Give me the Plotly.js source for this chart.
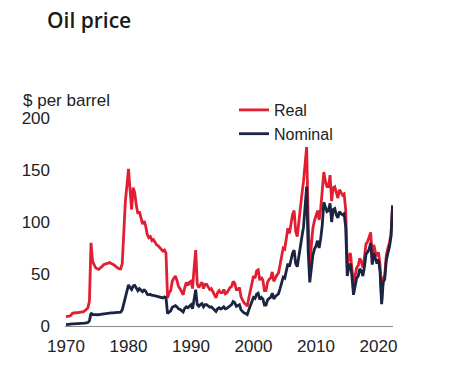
<!DOCTYPE html>
<html>
<head>
<meta charset="utf-8">
<script src="https://cdn.plot.ly/plotly-3.0.1.min.js"></script>
<style>
  html, body { margin: 0; padding: 0; background: #ffffff; }
  #chart { width: 450px; height: 372px; }
</style>
</head>
<body>
<div id="chart"></div>
<script>
// Quarterly observations, first quarter of 1970 to second quarter of 2022
const firstYear = 1970;
const periodsPerYear = 4;

// Real oil price, $ per barrel (today's money)
const realPrice = [
  9.0, 9.0, 9.5, 10.0,      // 1970
  12.0, 12.5, 12.5, 12.5,   // 1971
  13.0, 13.0, 13.5, 13.5,   // 1972
  14.5, 16.0, 17.5, 24.0,   // 1973
  80.0, 62.0, 58.0, 56.0,   // 1974
  55.0, 54.5, 56.0, 57.0,   // 1975
  59.0, 59.5, 60.0, 60.5,   // 1976
  61.0, 60.0, 59.5, 58.5,   // 1977
  57.0, 56.0, 55.0, 55.0,   // 1978
  60.0, 90.0, 120.0, 135.0, // 1979
  151.0, 131.0, 112.0, 133.0, // 1980
  128.0, 116.0, 108.0, 110.0, // 1981
  103.0, 98.0, 101.0, 96.0, // 1982
  88.0, 85.0, 86.0, 82.0,   // 1983
  83.0, 80.0, 78.0, 77.0,   // 1984
  75.0, 73.0, 72.0, 73.0,   // 1985
  70.0, 27.0, 32.0, 34.0,   // 1986
  43.0, 46.0, 48.0, 44.0,   // 1987
  38.0, 36.0, 32.0, 30.0,   // 1988
  37.0, 42.0, 39.0, 42.0,   // 1989
  43.0, 36.0, 56.0, 73.0,   // 1990
  40.0, 37.0, 40.0, 42.0,   // 1991
  36.0, 40.0, 40.0, 38.0,   // 1992
  35.0, 36.0, 33.0, 30.0,   // 1993
  27.0, 32.0, 34.0, 32.0,   // 1994
  32.0, 35.0, 31.0, 32.0,   // 1995
  35.0, 37.0, 38.0, 43.0,   // 1996
  41.0, 35.0, 35.0, 37.0,   // 1997
  28.0, 24.0, 22.0, 21.0,   // 1998
  19.0, 27.0, 35.0, 40.0,   // 1999
  48.0, 46.0, 53.0, 54.0,   // 2000
  44.0, 47.0, 44.0, 34.0,   // 2001
  34.0, 42.0, 45.0, 46.0,   // 2002
  52.0, 43.0, 47.0, 49.0,   // 2003
  51.0, 58.0, 66.0, 75.0,   // 2004
  74.0, 84.0, 94.0, 89.0,   // 2005
  97.0, 107.0, 111.0, 91.0, // 2006
  86.0, 102.0, 113.0, 127.0, // 2007
  139.0, 160.0, 172.0, 102.0, // 2008
  58.0, 77.0, 94.0, 101.0,  // 2009
  105.0, 111.0, 102.0, 113.0, // 2010
  130.0, 148.0, 139.0, 134.0, // 2011
  134.0, 145.0, 120.0, 133.0, // 2012
  134.0, 127.0, 123.0, 131.0, // 2013
  128.0, 126.0, 127.0, 112.0, // 2014
  57.0, 67.0, 70.0, 56.0,   // 2015
  40.0, 48.0, 56.0, 58.0,   // 2016
  65.0, 62.0, 56.0, 66.0,   // 2017
  79.0, 81.0, 85.0, 90.0,   // 2018
  66.0, 78.0, 71.0, 67.0,   // 2019
  71.0, 58.0, 24.0, 46.0,   // 2020
  49.0, 68.0, 75.0, 80.0,   // 2021
  88.0, 116.0               // 2022
];

// Nominal oil price, $ per barrel
const nominalPrice = [
  1.3, 1.3, 1.4, 1.6,       // 1970
  2.0, 2.1, 2.1, 2.2,       // 1971
  2.3, 2.3, 2.4, 2.5,       // 1972
  2.7, 3.0, 3.3, 5.0,       // 1973
  12.5, 11.0, 10.8, 10.6,   // 1974
  10.6, 10.8, 11.2, 11.5,   // 1975
  11.6, 11.7, 11.9, 12.2,   // 1976
  12.5, 12.6, 12.7, 12.8,   // 1977
  12.9, 12.9, 13.0, 13.2,   // 1978
  15.5, 21.0, 28.0, 34.0,   // 1979
  39.5, 37.0, 35.0, 38.5,   // 1980
  39.0, 36.5, 34.0, 36.0,   // 1981
  34.0, 33.0, 34.5, 33.5,   // 1982
  30.5, 30.0, 30.5, 29.5,   // 1983
  29.5, 29.0, 28.5, 28.0,   // 1984
  27.5, 27.5, 27.0, 28.0,   // 1985
  27.0, 12.0, 13.0, 14.5,   // 1986
  18.0, 19.0, 19.5, 18.5,   // 1987
  16.5, 16.0, 14.5, 13.5,   // 1988
  17.0, 18.5, 17.5, 19.5,   // 1989
  20.5, 16.5, 27.0, 35.0,   // 1990
  20.5, 19.0, 20.5, 21.5,   // 1991
  18.5, 20.5, 20.5, 19.5,   // 1992
  18.0, 18.5, 17.0, 16.0,   // 1993
  14.0, 16.5, 17.5, 16.5,   // 1994
  17.0, 18.5, 16.5, 17.0,   // 1995
  18.5, 20.0, 20.5, 23.5,   // 1996
  22.5, 19.0, 19.5, 20.5,   // 1997
  15.5, 13.5, 12.5, 12.0,   // 1998
  11.0, 15.5, 20.5, 23.5,   // 1999
  27.5, 26.5, 30.5, 31.5,   // 2000
  25.5, 27.5, 26.0, 20.0,   // 2001
  20.0, 25.0, 26.5, 27.5,   // 2002
  31.5, 26.0, 28.5, 29.5,   // 2003
  31.0, 36.0, 41.0, 47.0,   // 2004
  46.0, 53.0, 60.0, 57.0,   // 2005
  63.0, 70.0, 73.0, 60.0,   // 2006
  57.0, 68.0, 76.0, 86.0,   // 2007
  95.0, 112.0, 134.0, 72.0, // 2008
  42.0, 55.0, 68.0, 74.0,   // 2009
  77.0, 82.0, 75.0, 84.0,   // 2010
  97.0, 119.0, 114.0, 110.0, // 2011
  111.0, 118.0, 100.0, 112.0, // 2012
  113.0, 107.0, 104.0, 110.0, // 2013
  108.0, 107.0, 108.0, 95.0, // 2014
  48.0, 57.0, 60.0, 48.0,   // 2015
  30.0, 38.0, 46.0, 48.0,   // 2016
  55.0, 53.0, 48.0, 57.0,   // 2017
  69.0, 71.0, 74.0, 80.0,   // 2018
  59.0, 70.0, 64.0, 60.0,   // 2019
  64.0, 52.0, 21.0, 42.0,   // 2020
  45.0, 63.0, 70.0, 76.0,   // 2021
  86.0, 116.0               // 2022
];

const seriesNames = ["Real", "Nominal"];
const xTickValues = [1970, 1980, 1990, 2000, 2010, 2020];
const xTickLabels = ["1970", "1980", "1990", "2000", "2010", "2020"];
const yTickValues = [0, 50, 100, 150, 200];
const yTickLabels = ["0", "50", "100", "150", "200"];

const periods = realPrice.map((_, i) => firstYear + i / periodsPerYear);

const RED = "#e21e32";
const NAVY = "#1b2542";
const TEXT = "#222222";
const FONT = "Liberation Sans, Arial, sans-serif";
const FS = 17;

const traces = [
  {
    x: periods, y: realPrice, name: seriesNames[0], type: "scatter", mode: "lines",
    line: { color: RED, width: 2.8 }, hoverinfo: "skip"
  },
  {
    x: periods, y: nominalPrice, name: seriesNames[1], type: "scatter", mode: "lines",
    line: { color: NAVY, width: 2.8 }, hoverinfo: "skip"
  }
];

const layout = {
  width: 450, height: 372,
  paper_bgcolor: "#ffffff", plot_bgcolor: "#ffffff",
  margin: { l: 65, r: 57, t: 118, b: 46 },
  font: { family: FONT, size: FS, color: TEXT },
  title: {
    text: "Oil price",
    font: { family: "Open Sans, sans-serif", size: 21, weight: 600, color: "#1a1a1a" },
    xref: "container", yref: "container",
    x: 47 / 450, xanchor: "left",
    y: 1 - 21 / 372, yanchor: "middle"
  },
  xaxis: {
    range: [1969.84, 2022.32],
    tickmode: "array", tickvals: xTickValues, ticktext: xTickLabels,
    showgrid: false, zeroline: false,
    showline: true, linecolor: "#8a8a8a", linewidth: 1,
    ticks: "", ticklabelstandoff: 5,
    tickfont: { family: FONT, size: FS, color: TEXT },
    fixedrange: true
  },
  yaxis: {
    range: [0, 200],
    tickmode: "array", tickvals: yTickValues, ticktext: yTickLabels,
    showgrid: false, zeroline: false, showline: false,
    ticks: "", ticklabelstandoff: 14,
    tickfont: { family: FONT, size: FS, color: TEXT },
    fixedrange: true
  },
  showlegend: true,
  legend: {
    x: (234 - 65) / 328, xanchor: "left",
    y: (326 - 93) / 208, yanchor: "top",
    bgcolor: "rgba(0,0,0,0)", borderwidth: 0,
    font: { family: FONT, size: 16, color: TEXT },
    tracegroupgap: 0
  },
  annotations: [
    {
      text: "$ per barrel", showarrow: false,
      xref: "paper", yref: "paper",
      x: (21 - 65) / 328, xanchor: "left",
      y: (326 - 100) / 208, yanchor: "middle",
      font: { family: FONT, size: FS, color: TEXT }
    }
  ]
};

Plotly.newPlot("chart", traces, layout, { displayModeBar: false, staticPlot: true });
</script>
</body>
</html>
